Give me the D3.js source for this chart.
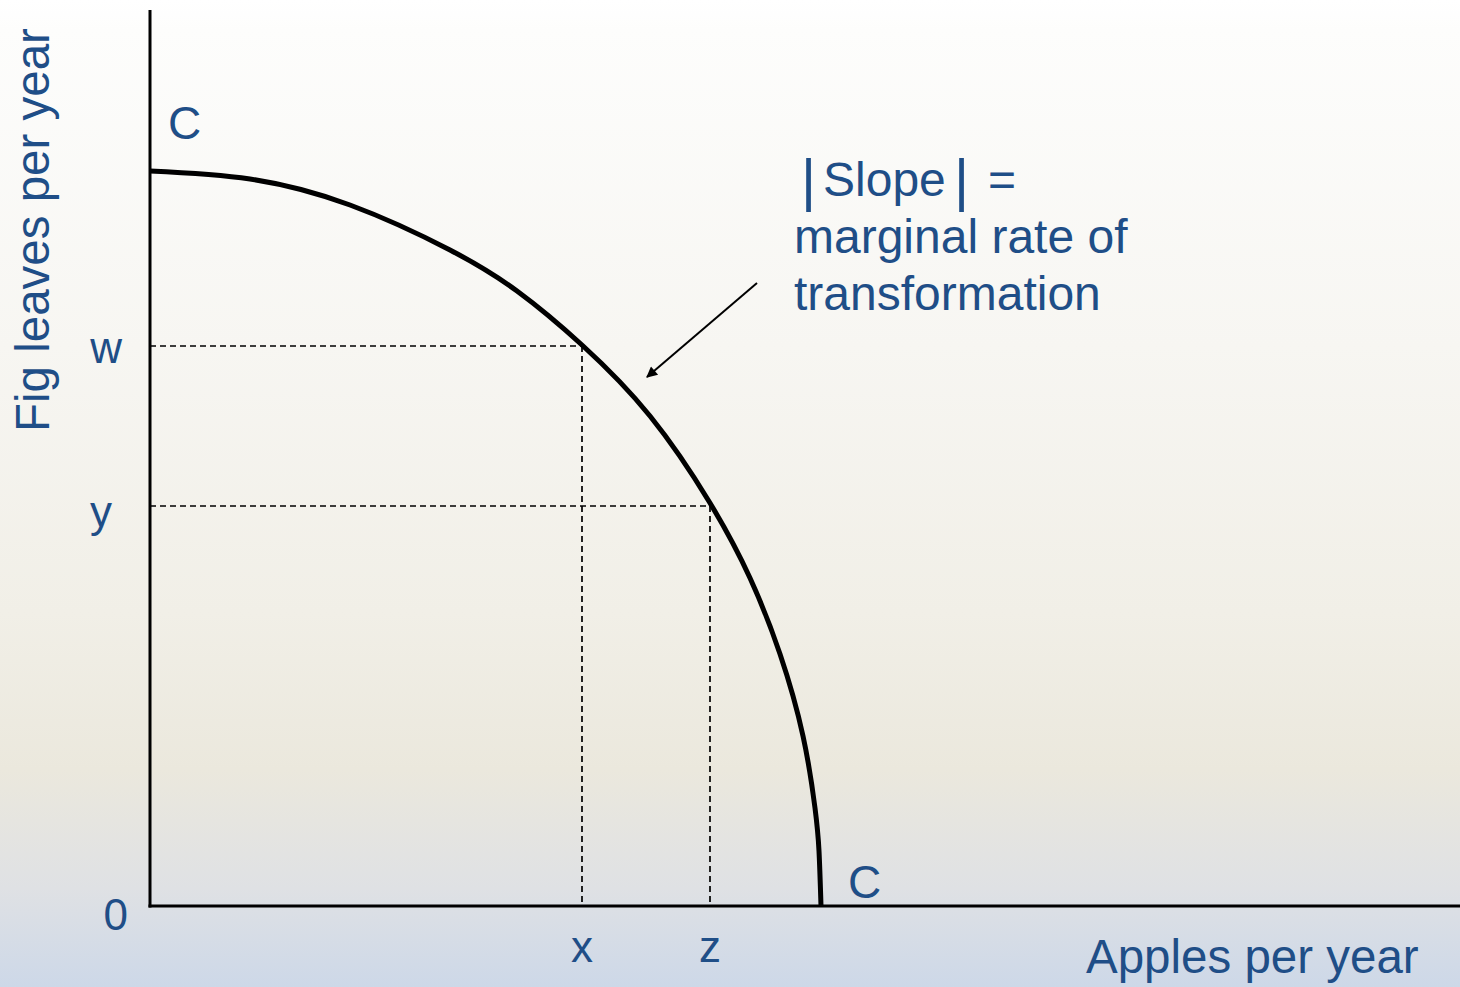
<!DOCTYPE html>
<html><head><meta charset="utf-8">
<script src="https://cdn.jsdelivr.net/npm/d3@7"></script>
<style>html,body{margin:0;padding:0;overflow:hidden;}svg{display:block;}</style>
</head><body>
<svg id="chart" width="1460" height="987"></svg>
<script>
// Production possibilities frontier (in axis units)
const frontierApples = [0, 100, 200, 300, 367, 432, 500, 560, 600, 630, 653, 665, 669, 671];
const frontierFigs   = [735, 727, 701, 656, 615, 561, 490, 403, 328, 252, 170, 98, 55, 0];
// Marked points
const markApples = [432, 560];        // x, z
const markFigs   = [560, 400];        // w, y
const xTickLabels = ["x", "z"];
const yTickLabels = ["w", "y"];
const xAxisTitle = "Apples per year";
const yAxisTitle = "Fig leaves per year";
const noteLines = ["marginal rate of", "transformation"];

const svg = d3.select("#chart");
const W = 1460, H = 987;
const blue = "#1f4e87";
const font = "'Liberation Sans', Arial, sans-serif";

// background gradient
const defs = svg.append("defs");
const g = defs.append("linearGradient").attr("id","bg").attr("x1",0).attr("y1",0).attr("x2",0).attr("y2",1);
[[0,"#ffffff"],[0.03,"#fdfdfc"],[0.35,"#f7f6f2"],[0.62,"#f1efe7"],[0.78,"#ebe8dd"],[0.9,"#dfe1e4"],[1,"#cdd8e8"]]
  .forEach(([o,c])=>g.append("stop").attr("offset",o).attr("stop-color",c));
svg.append("rect").attr("width",W).attr("height",H).attr("fill","url(#bg)");

defs.append("marker").attr("id","arr").attr("viewBox","0 0 10 10").attr("refX",9).attr("refY",5)
  .attr("markerWidth",14).attr("markerHeight",11).attr("markerUnits","userSpaceOnUse").attr("orient","auto")
  .append("path").attr("d","M0,0 L10,5 L0,10 z").attr("fill","#000");

const x = d3.scaleLinear().domain([0,1310]).range([150,1460]);
const y = d3.scaleLinear().domain([0,896]).range([906,10]);

// dashed guides
markApples.forEach((a,i)=>{
  const f = markFigs[i];
  svg.append("line").attr("x1",x(0)).attr("x2",x(a)).attr("y1",y(f)).attr("y2",y(f))
    .attr("stroke","#000").attr("stroke-width",1.7).attr("stroke-dasharray","6,4");
  svg.append("line").attr("x1",x(a)).attr("x2",x(a)).attr("y1",y(f)).attr("y2",y(0))
    .attr("stroke","#000").attr("stroke-width",1.7).attr("stroke-dasharray","6,4");
});

// frontier curve
const pts = frontierApples.map((a,i)=>[a, frontierFigs[i]]);
const line = d3.line().x(d=>x(d[0])).y(d=>y(d[1])).curve(d3.curveNatural);
svg.append("path").attr("d",line(pts)).attr("fill","none").attr("stroke","#000").attr("stroke-width",5);

// axes
svg.append("line").attr("x1",x(0)).attr("x2",x(0)).attr("y1",y(896)).attr("y2",y(0)+1.5)
  .attr("stroke","#000").attr("stroke-width",3);
svg.append("line").attr("x1",x(0)-1.5).attr("x2",x(1310)).attr("y1",y(0)).attr("y2",y(0))
  .attr("stroke","#000").attr("stroke-width",3);

const txt = (s, px, py, size, anchor) => svg.append("text").attr("x",px).attr("y",py)
  .attr("font-family",font).attr("font-size",size).attr("fill",blue)
  .attr("text-anchor",anchor||"start").text(s);

// tick labels
markApples.forEach((a,i)=>txt(xTickLabels[i], x(a), y(0)+56, 44, "middle"));
markFigs.forEach((f,i)=>txt(yTickLabels[i], x(0)-(i===0?28:38), y(f)+(i===0?17:21), 44, "end"));
txt("0", x(0)-22, y(0)+24, 44, "end");

// C labels
txt("C", x(18), y(767), 46);
txt("C", x(698), y(8), 46);

// axis titles
txt(xAxisTitle, x(936), 973, 47.5);
svg.append("text").attr("transform",`translate(49,${432}) rotate(-90)`)
  .attr("font-family",font).attr("font-size",47.5).attr("fill",blue).text(yAxisTitle);

// annotation
const t1 = svg.append("text").attr("y",196).attr("font-family",font).attr("fill",blue).attr("font-size",48);
t1.append("tspan").attr("x",801).attr("font-size",58).attr("dy",4).text("|");
t1.append("tspan").attr("x",823).attr("dy",-4).text("Slope");
t1.append("tspan").attr("x",954).attr("font-size",58).attr("dy",4).text("|");
t1.append("tspan").attr("x",988).attr("dy",-4).text("=");
noteLines.forEach((s,i)=>txt(s, 794, 253+57*i, 48));

// arrow
svg.append("line").attr("x1",757).attr("y1",283).attr("x2",647).attr("y2",377)
  .attr("stroke","#000").attr("stroke-width",2).attr("marker-end","url(#arr)");
</script>
</body></html>
